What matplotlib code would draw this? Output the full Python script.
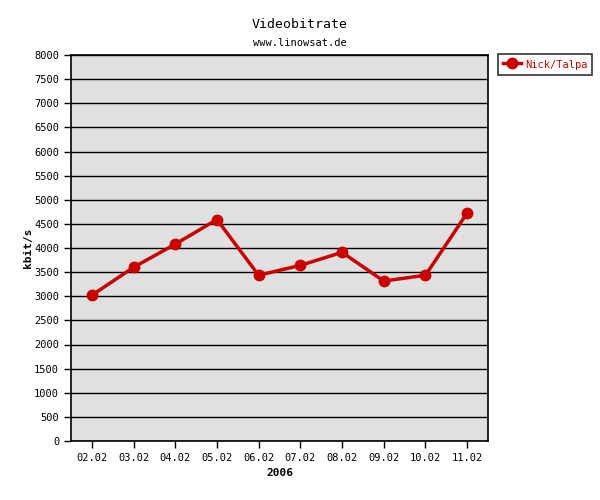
import matplotlib
matplotlib.use("Agg")
import matplotlib.pyplot as plt

categories = ["02.02", "03.02", "04.02", "05.02", "06.02", "07.02", "08.02", "09.02", "10.02", "11.02"]
values = [3020, 3600, 4080, 4590, 3435, 3640, 3910, 3315, 3435, 4725]
series_name = "Nick/Talpa"

plt.rcParams['font.family'] = ['DejaVu Sans Mono']
red = "#cc0000"

fig = plt.figure(figsize=(6, 5), dpi=100)
ax = fig.add_axes([71/600, 59/500, 417/600, 386/500])
ax.set_facecolor("#e0e0e0")
x = list(range(len(categories)))
ax.plot(x, values, color=red, lw=2.5, marker="o", ms=7.5, label=series_name, zorder=3)
ax.set_xlim(-0.5, len(categories) - 0.5)
ax.set_ylim(0, 8000)
ax.set_yticks(range(0, 8001, 500))
ax.set_xticks(x)
ax.set_xticklabels(categories)
ax.tick_params(labelsize=7.5, length=5, width=1, color="black")
ax.yaxis.grid(True, color="black", lw=1)
ax.set_axisbelow(True)
for s in ax.spines.values():
    s.set_linewidth(1.2)
ax.set_ylabel("kbit/s", fontsize=8, fontweight="bold", labelpad=1)
ax.set_xlabel("2006", fontsize=8, fontweight="bold", labelpad=4)

fig.text(0.5, 475/500, "Videobitrate", ha="center", va="center", fontsize=9.5)
fig.text(0.5, 457/500, "www.linowsat.de", ha="center", va="center", fontsize=7.5)

leg = fig.legend(loc="upper left", bbox_to_anchor=(498/600, 1 - 54/500), fontsize=7.5,
                 frameon=True, fancybox=False, edgecolor="black", handlelength=1.8,
                 handleheight=1.4, borderpad=0.45, handletextpad=0.35, borderaxespad=0)
leg.get_frame().set_linewidth(1.2)
for t in leg.get_texts():
    t.set_color(red)

fig.savefig("out.png", dpi=100)
